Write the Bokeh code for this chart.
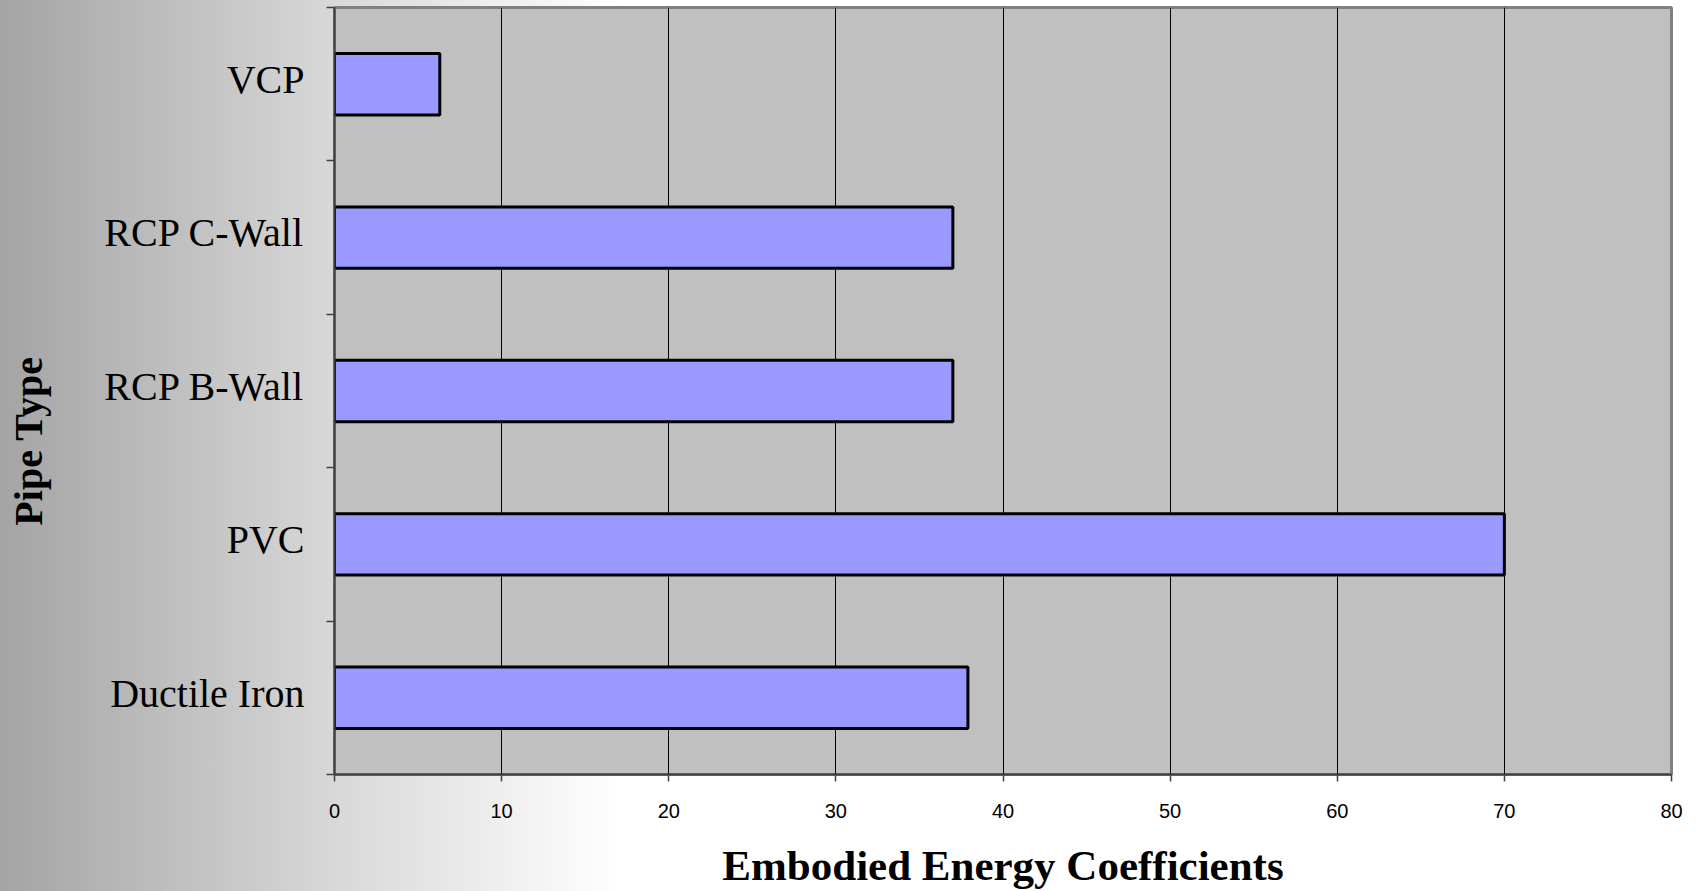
from bokeh.plotting import figure
from bokeh.models import FixedTicker, Range1d, ColumnDataSource
from bokeh.embed import file_html
from bokeh.resources import INLINE

# ---- data (bottom to top) ----
pipe_types = ["Ductile Iron", "PVC", "RCP B-Wall", "RCP C-Wall", "VCP"]
coefficients = [37.9, 70.0, 37.0, 37.0, 6.3]
x_ticks = [0, 10, 20, 30, 40, 50, 60, 70, 80]

n = len(pipe_types)
centers = [i + 0.5 for i in range(n)]
bounds = [i for i in range(n + 1)]
# label anchors sit a few pixels above bar centres, as in the original
label_pos = [c + 0.03 for c in centers]

src = ColumnDataSource(dict(y=centers, v=coefficients, name=pipe_types))

p = figure(width=1696, height=891, output_backend="svg", toolbar_location=None,
           x_range=Range1d(0, 80), y_range=Range1d(0, n),
           min_border_left=334, min_border_right=25, min_border_top=7,
           min_border_bottom=115)

p.hbar(y="y", right="v", left=0, height=0.4, source=src,
       fill_color="#9999FF", line_color="black", line_width=3)

p.background_fill_color = "#C0C0C0"
p.border_fill_alpha = 0
p.outline_line_color = "#808080"
p.outline_line_width = 3
p.styles = {"background": "linear-gradient(to right, #a4a4a4 0px, #d8d8d8 334px, #ffffff 620px)"}

# x axis
xa = p.xaxis[0]
xa.ticker = FixedTicker(ticks=x_ticks)
xa.axis_label = "Embodied Energy Coefficients"
xa.axis_label_text_font = "Liberation Serif"
xa.axis_label_text_font_style = "bold"
xa.axis_label_text_font_size = "43px"
xa.axis_label_text_color = "black"
xa.axis_label_text_line_height = 0.5
xa.axis_label_standoff = 21
xa.major_label_text_font = "Liberation Sans"
xa.major_label_text_font_size = "20px"
xa.major_label_text_color = "black"
xa.major_label_standoff = 22
xa.major_tick_out = 7
xa.major_tick_in = 0
xa.minor_tick_out = 0
xa.minor_tick_in = 0
xa.axis_line_color = "#404040"
xa.axis_line_width = 2
xa.major_tick_line_color = "#404040"
xa.major_tick_line_width = 1.5

# y axis: labels near centres, tick marks at category boundaries
ya = p.yaxis[0]
ya.ticker = FixedTicker(ticks=label_pos, minor_ticks=bounds)
ya.major_label_overrides = {c: t for c, t in zip(label_pos, pipe_types)}
ya.major_label_text_font = "Liberation Serif"
ya.major_label_text_font_size = "40px"
ya.major_label_text_color = "black"
ya.major_label_standoff = 22
ya.major_tick_out = 0
ya.major_tick_in = 0
ya.minor_tick_out = 8
ya.minor_tick_in = 0
ya.minor_tick_line_color = "#404040"
ya.minor_tick_line_width = 1.5
ya.axis_line_color = "#404040"
ya.axis_line_width = 2
# y title: trailing no-break spaces shift the visible words below the frame centre
ya.axis_label = "Pipe Type" + "\u00a0" * 10
ya.axis_label_text_font = "Liberation Serif"
ya.axis_label_text_font_style = "bold"
ya.axis_label_text_font_size = "40px"
ya.axis_label_text_color = "black"
ya.axis_label_text_line_height = 0.8
ya.axis_label_standoff = 50

p.xgrid.grid_line_color = "black"
p.xgrid.grid_line_width = 1
p.ygrid.grid_line_color = None

open("out.html", "w").write(file_html(p, INLINE))
